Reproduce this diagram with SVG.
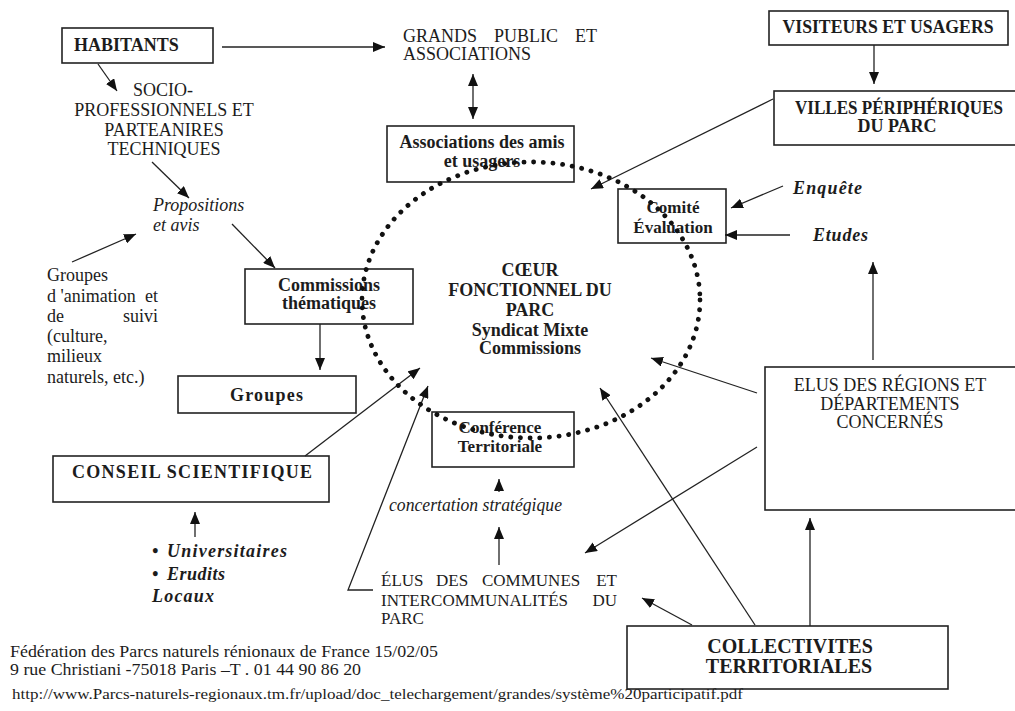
<svg xmlns="http://www.w3.org/2000/svg" width="1015" height="711" viewBox="0 0 1015 711">
<defs>
<marker id="ah" viewBox="0 0 12 10" refX="12" refY="5" markerWidth="12" markerHeight="10" markerUnits="userSpaceOnUse" orient="auto-start-reverse">
<path d="M0,0 L12,5 L0,10 z" fill="#111"/>
</marker>
<style>
text{font-family:"Liberation Serif","Times New Roman",serif;fill:#1c1c1c;font-size:18px}
.b{font-weight:bold}
.i{font-style:italic}
.bi{font-weight:bold;font-style:italic}
.c{text-anchor:middle}
.e{text-anchor:end}
.s17{font-size:17px}
.box{fill:#fff;stroke:#222;stroke-width:1.6}
.ar{fill:none;stroke:#222;stroke-width:1.3;marker-end:url(#ah)}
.dots{fill:none;stroke:#111;stroke-width:4.8;stroke-linecap:round;stroke-dasharray:0.1 9.6}
</style>
</defs>
<rect width="1015" height="711" fill="#fff"/>

<g id="habitants"><rect class="box" x="62" y="28" width="151" height="35"/><text class="b" x="74" y="51">HABITANTS</text></g>
<g id="grand-public"><text x="403" y="42">GRANDS</text><text x="494" y="42">PUBLIC</text><text class="e" x="597" y="42">ET</text><text x="403" y="60">ASSOCIATIONS</text></g>
<g id="visiteurs"><rect class="box" x="769" y="11" width="239" height="34"/><text class="b c" x="888" y="33" textLength="211" lengthAdjust="spacingAndGlyphs">VISITEURS ET USAGERS</text></g>
<g id="villes"><rect class="box" x="774" y="91" width="245" height="54"/><text class="b c" x="899" y="114" textLength="208" lengthAdjust="spacingAndGlyphs">VILLES PÉRIPHÉRIQUES</text><text class="b c" x="897" y="132">DU PARC</text></g>
<g id="socio"><text class="c" x="163" y="96">SOCIO-</text><text class="c" x="164" y="116">PROFESSIONNELS ET</text><text class="c" x="164" y="136">PARTEANIRES</text><text class="c" x="164" y="155">TECHNIQUES</text></g>
<g id="propositions"><text class="i" x="153" y="211">Propositions</text><text class="i" x="153" y="231">et avis</text></g>
<g id="groupes-animation"><text x="47" y="281">Groupes</text><text x="47" y="302">d 'animation</text><text class="e" x="158" y="302">et</text><text x="47" y="322">de</text><text class="e" x="158" y="322">suivi</text><text x="47" y="342">(culture,</text><text x="47" y="362">milieux</text><text x="47" y="383">naturels, etc.)</text></g>
<g id="associations"><rect class="box" x="387" y="126" width="187" height="56"/><text class="b c" x="482" y="148">Associations des amis</text><text class="b c" x="482" y="167">et usagers</text></g>
<g id="comite"><rect class="box" x="618" y="189" width="108" height="54"/><text class="b c s17" x="673" y="213">Comité</text><text class="b c s17" x="673" y="233">Évaluation</text></g>
<g id="enquete"><text class="bi" x="793" y="194" textLength="69" lengthAdjust="spacing">Enquête</text></g>
<g id="etudes"><text class="bi" x="813" y="241" textLength="55" lengthAdjust="spacing">Etudes</text></g>
<g id="commissions"><rect class="box" x="245" y="269" width="168" height="55"/><text class="b c" x="329" y="291">Commissions</text><text class="b c" x="329" y="309">thématiques</text></g>
<g id="groupes"><rect class="box" x="178" y="376" width="178" height="37"/><text class="b" x="230" y="401" textLength="73" lengthAdjust="spacing">Groupes</text></g>
<g id="conseil"><rect class="box" x="53" y="456" width="276" height="46"/><text class="b" x="72" y="478" textLength="240" lengthAdjust="spacing">CONSEIL SCIENTIFIQUE</text></g>
<g id="universitaires"><text class="bi" x="152" y="557">•</text><text class="bi" x="167" y="557" textLength="120" lengthAdjust="spacing">Universitaires</text><text class="bi" x="152" y="580">•</text><text class="bi" x="167" y="580" textLength="58" lengthAdjust="spacing">Erudits</text><text class="bi" x="152" y="602" textLength="62" lengthAdjust="spacing">Locaux</text></g>
<g id="conference"><rect class="box" x="432" y="412" width="142" height="55"/><text class="b c s17" x="500" y="433">Conférence</text><text class="b c s17" x="500" y="452">Territoriale</text></g>
<g id="concertation"><text class="i" x="389" y="511" textLength="173" lengthAdjust="spacingAndGlyphs">concertation stratégique</text></g>
<g id="elus-communes"><text class="s17" x="381" y="586">ÉLUS</text><text class="s17" x="436" y="586">DES</text><text class="s17" x="482" y="586">COMMUNES</text><text class="s17 e" x="617" y="586">ET</text><text class="s17" x="381" y="606">INTERCOMMUNALITÉS</text><text class="s17 e" x="617" y="606">DU</text><text class="s17" x="381" y="624">PARC</text></g>
<g id="elus-regions"><rect class="box" x="765" y="367" width="252" height="143"/><text class="c" x="890" y="391">ELUS DES RÉGIONS ET</text><text class="c" x="890" y="410">DÉPARTEMENTS</text><text class="c" x="890" y="428">CONCERNÉS</text></g>
<g id="collectivites"><rect class="box" x="627" y="626" width="321" height="63"/><text class="b c" x="790" y="653" style="font-size:20px">COLLECTIVITES</text><text class="b c" x="789" y="673" style="font-size:20px">TERRITORIALES</text></g>

<g id="connectors">
<line class="ar" x1="222" y1="47" x2="385" y2="47"/>
<line class="ar" x1="473" y1="74" x2="473" y2="119" style="marker-start:url(#ah)"/>
<line class="ar" x1="874" y1="45" x2="874" y2="84"/>
<line class="ar" x1="773" y1="99" x2="591" y2="189"/>
<line class="ar" x1="783" y1="186" x2="731" y2="208"/>
<line class="ar" x1="790" y1="235" x2="725" y2="235"/>
<line class="ar" x1="98" y1="64" x2="117" y2="91"/>
<line class="ar" x1="152" y1="162" x2="189" y2="198"/>
<line class="ar" x1="72" y1="262" x2="136" y2="234"/>
<line class="ar" x1="232" y1="224" x2="275" y2="268"/>
<line class="ar" x1="320" y1="324" x2="320" y2="370"/>
<line class="ar" x1="305" y1="456" x2="420" y2="368"/>
<line class="ar" x1="195" y1="537" x2="195" y2="512"/>
<polyline class="ar" points="373,590 348,590 428,386"/>
<line class="ar" x1="499" y1="492" x2="499" y2="479"/>
<line class="ar" x1="499" y1="565" x2="499" y2="527"/>
<line class="ar" x1="757" y1="447" x2="585" y2="553"/>
<line class="ar" x1="755" y1="625" x2="600" y2="388"/>
<line class="ar" x1="757" y1="393" x2="651" y2="358"/>
<line class="ar" x1="692" y1="625" x2="642" y2="598"/>
<line class="ar" x1="873" y1="360" x2="873" y2="262"/>
<line class="ar" x1="810" y1="626" x2="810" y2="518"/>
</g>

<g id="coeur">
<ellipse class="dots" cx="531" cy="300" rx="169" ry="138"/>
<text class="b c" x="530" y="276">CŒUR</text>
<text class="b c" x="530" y="296">FONCTIONNEL DU</text>
<text class="b c" x="530" y="316">PARC</text>
<text class="b c" x="530" y="336">Syndicat Mixte</text>
<text class="b c" x="530" y="354">Commissions</text>
</g>

<g id="footer">
<text x="10" y="657" style="font-size:17px" textLength="428" lengthAdjust="spacingAndGlyphs">Fédération des Parcs naturels rénionaux de France 15/02/05</text>
<text x="10" y="675" style="font-size:17px" textLength="351" lengthAdjust="spacingAndGlyphs">9 rue Christiani -75018 Paris –T . 01 44 90 86 20</text>
<text x="12" y="699" style="font-size:14px" textLength="731" lengthAdjust="spacingAndGlyphs">http://www.Parcs-naturels-regionaux.tm.fr/upload/doc_telechargement/grandes/système%20participatif.pdf</text>
</g>
</svg>
